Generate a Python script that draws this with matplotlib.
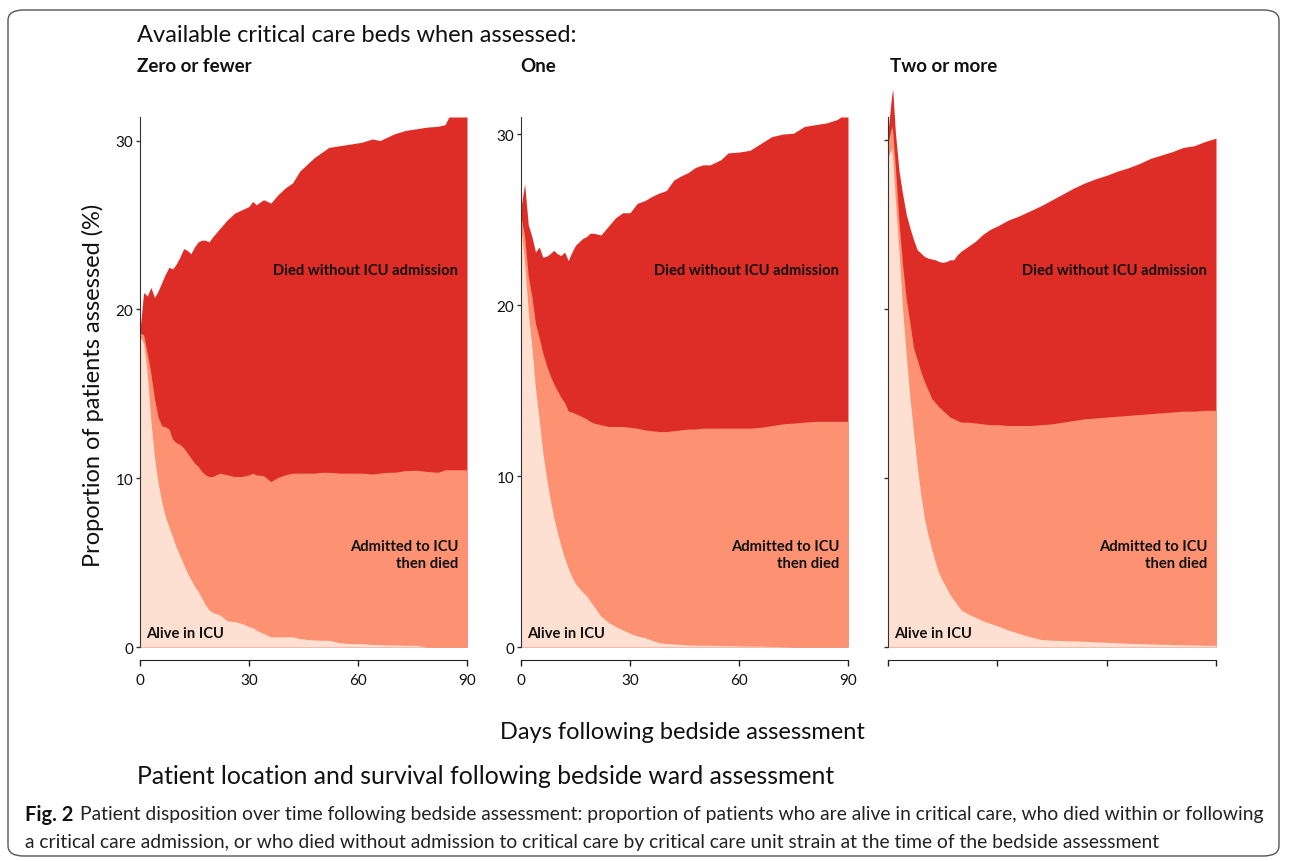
import matplotlib.pyplot as plt
from matplotlib.patches import FancyBboxPatch

plt.rcParams["font.family"] = ["Lato", "DejaVu Sans"]

# ── colours (ColorBrewer "Reds", 3 classes) ──────────────────────────────────
C_ALIVE = "#FEE0D2"
C_ICU = "#FC9272"
C_WARD = "#DE2D26"
TXT = "#111111"

# ── data: upper edge of each stacked band, % of patients assessed ────────────
# "Zero or fewer" beds available
days_zero = [0, 1, 2, 3, 4, 5, 6, 7, 8, 9, 10, 11, 12, 13, 14, 15, 16, 17, 18, 19,
             20, 22, 24, 26, 28, 30, 31, 32, 34, 36, 38, 40, 42, 44, 46, 48, 50, 52,
             55, 58, 61, 64, 66, 68, 70, 73, 76, 79, 82, 84, 85, 88, 90]
alive_zero = [18.4, 18.0, 16.2, 13.4, 11.2, 9.7, 8.6, 7.7, 7.1, 6.5, 5.9, 5.4, 4.9,
              4.4, 4.0, 3.6, 3.3, 2.9, 2.5, 2.2, 2.05, 1.9, 1.55, 1.5, 1.4, 1.2, 1.15,
              1.0, 0.8, 0.6, 0.6, 0.6, 0.6, 0.5, 0.45, 0.42, 0.4, 0.4, 0.25, 0.2, 0.2,
              0.15, 0.15, 0.12, 0.12, 0.1, 0.1, 0.0, 0.0, 0.0, 0.0, 0.0, 0.0]
icu_zero = [18.6, 18.5, 17.4, 16.2, 14.7, 13.6, 13.1, 13.05, 12.9, 12.3, 12.1, 12.0,
            11.8, 11.5, 11.2, 10.9, 10.7, 10.4, 10.2, 10.1, 10.1, 10.3, 10.2, 10.1,
            10.1, 10.2, 10.3, 10.2, 10.15, 9.8, 10.05, 10.2, 10.3, 10.3, 10.3, 10.3,
            10.35, 10.35, 10.3, 10.3, 10.3, 10.25, 10.3, 10.35, 10.35, 10.45, 10.47,
            10.4, 10.35, 10.5, 10.5, 10.5, 10.5]
total_zero = [18.8, 21.0, 20.8, 21.3, 20.7, 21.1, 21.6, 22.1, 22.5, 22.4, 22.7, 23.1,
              23.6, 23.5, 23.3, 23.7, 24.0, 24.1, 24.1, 24.0, 24.3, 24.8, 25.3, 25.7,
              25.9, 26.1, 26.4, 26.2, 26.5, 26.3, 26.8, 27.2, 27.5, 28.2, 28.6, 29.0,
              29.3, 29.6, 29.7, 29.8, 29.9, 30.1, 30.0, 30.2, 30.4, 30.6, 30.7, 30.8,
              30.85, 30.95, 31.4, 31.4, 31.4]

# "One" bed available
days_one = [0, 1, 2, 3, 4, 5, 6, 7, 8, 9, 10, 11, 12, 13, 14, 15, 16, 17, 18, 19, 20,
            22, 24, 26, 28, 30, 32, 34, 36, 38, 40, 42, 44, 46, 48, 50, 52, 55, 57, 60,
            63, 66, 69, 72, 75, 78, 81, 84, 87, 88, 90]
alive_one = [24.5, 22.5, 19.6, 17.5, 15.1, 13.3, 11.4, 9.9, 8.7, 7.6, 6.7, 5.9, 5.2,
             4.6, 4.1, 3.7, 3.45, 3.2, 3.0, 2.7, 2.4, 1.8, 1.45, 1.2, 1.0, 0.8, 0.65,
             0.55, 0.4, 0.25, 0.2, 0.18, 0.15, 0.12, 0.1, 0.1, 0.1, 0.08, 0.08, 0.06,
             0.05, 0.05, 0.03, 0.02, 0.0, 0.0, 0.0, 0.0, 0.0, 0.0, 0.0]
icu_one = [25.2, 24.0, 21.7, 20.5, 18.9, 18.1, 17.2, 16.5, 15.9, 15.4, 15.0, 14.6,
           14.3, 13.8, 13.75, 13.65, 13.55, 13.45, 13.35, 13.2, 13.1, 13.0, 12.9, 12.9,
           12.9, 12.85, 12.8, 12.7, 12.65, 12.6, 12.6, 12.65, 12.7, 12.75, 12.75, 12.8,
           12.8, 12.8, 12.8, 12.8, 12.8, 12.85, 12.95, 13.05, 13.1, 13.15, 13.2, 13.2,
           13.2, 13.2, 13.2]
total_one = [25.7, 27.1, 24.7, 24.0, 23.1, 23.4, 22.8, 22.85, 23.0, 23.2, 23.0, 22.9,
             23.1, 22.6, 23.1, 23.5, 23.7, 23.9, 24.0, 24.2, 24.2, 24.1, 24.6, 25.1,
             25.4, 25.4, 25.95, 26.1, 26.35, 26.55, 26.7, 27.3, 27.55, 27.75, 28.05,
             28.2, 28.2, 28.5, 28.9, 28.95, 29.05, 29.45, 29.85, 30.0, 30.05, 30.45,
             30.55, 30.65, 30.85, 31.0, 31.0]

# "Two or more" beds available
days_two = [0, 1, 1.3, 2, 3, 4, 5, 6, 7, 8, 9, 10, 11, 12, 13, 14, 15, 16, 17, 18, 19,
            20, 22, 24, 26, 28, 30, 33, 36, 39, 42, 45, 48, 51, 54, 57, 60, 63, 66, 69,
            72, 75, 78, 81, 84, 87, 90]
alive_two = [29.0, 29.5, 29.0, 26.5, 23.5, 20.0, 17.3, 14.8, 12.7, 10.7, 9.0, 7.6,
             6.6, 5.8, 5.0, 4.35, 3.9, 3.5, 3.1, 2.8, 2.5, 2.2, 1.95, 1.75, 1.55, 1.4,
             1.25, 1.0, 0.8, 0.6, 0.45, 0.4, 0.38, 0.36, 0.34, 0.3, 0.28, 0.25, 0.22,
             0.2, 0.18, 0.16, 0.15, 0.13, 0.12, 0.1, 0.1]
icu_two = [29.8, 30.8, 30.5, 28.5, 25.2, 22.6, 20.6, 19.2, 17.7, 17.0, 16.3, 15.7,
           15.2, 14.7, 14.45, 14.2, 14.0, 13.8, 13.6, 13.5, 13.4, 13.3, 13.3, 13.25,
           13.2, 13.15, 13.15, 13.1, 13.1, 13.1, 13.15, 13.2, 13.3, 13.4, 13.5, 13.55,
           13.6, 13.65, 13.7, 13.75, 13.8, 13.85, 13.9, 13.95, 13.95, 14.0, 14.0]
total_two = [30.5, 32.6, 33.0, 30.5, 28.2, 26.8, 25.6, 24.8, 24.1, 23.5, 23.3, 23.1,
             23.0, 22.95, 22.9, 22.8, 22.75, 22.8, 22.9, 22.9, 23.2, 23.4, 23.7, 24.0,
             24.4, 24.7, 24.9, 25.25, 25.5, 25.8, 26.1, 26.45, 26.8, 27.15, 27.45, 27.7,
             27.9, 28.15, 28.35, 28.6, 28.9, 29.1, 29.3, 29.55, 29.65, 29.9, 30.1]

panel_titles = ["Zero or fewer", "One", "Two or more"]
x_ticks = [0, 30, 60, 90]
y_ticks = [0, 10, 20, 30]

panels = [
    (days_zero, alive_zero, icu_zero, total_zero),
    (days_one, alive_one, icu_one, total_one),
    (days_two, alive_two, icu_two, total_two),
]

# ── layout in figure pixels ──────────────────────────────────────────────────
W, H = 1290, 862
fig = plt.figure(figsize=(W / 100, H / 100), dpi=100)

lefts = [140, 521, 888]
widths = [327, 327, 328]
y0_px, ytop_px = 648, 118
y_tops = [max(total_zero), max(total_one), 31.35]


def fx(px):
    return px / W


def fy(py):
    return 1 - py / H


axes = []
for i, ((d, alive, icu, total), left, width) in enumerate(zip(panels, lefts, widths)):
    ax = fig.add_axes([fx(left), fy(y0_px), width / W, (y0_px - ytop_px) / H])
    clip = i != 2
    # stacked from the back so no seams show between bands
    ax.fill_between(d, 0, total, color=C_WARD, lw=0, clip_on=clip)
    ax.fill_between(d, 0, icu, color=C_ICU, lw=0, clip_on=clip)
    ax.fill_between(d, 0, alive, color=C_ALIVE, lw=0, clip_on=clip)

    ax.set_xlim(0, 90)
    ax.set_ylim(0, y_tops[i])
    ax.set_xticks(x_ticks)
    ax.set_yticks(y_ticks)
    ax.patch.set_alpha(0)

    for s in ["top", "right"]:
        ax.spines[s].set_visible(False)
    ax.spines["bottom"].set_position(("outward", 9))
    ax.spines["left"].set_color("#333333")
    ax.spines["bottom"].set_color("#222222")
    ax.tick_params(axis="x", direction="out", length=4.5, width=1, colors="#222222",
                   labelsize=11, pad=5, labelcolor=TXT)
    ax.tick_params(axis="y", direction="out", length=3, width=1, colors="#333333",
                   labelsize=11, pad=2, labelcolor=TXT)
    if i == 2:
        ax.set_xticklabels([])
        ax.set_yticklabels([])

    # band labels: x in days, y as a fraction of the panel height
    tr = ax.get_xaxis_transform()
    ax.text(87.6, 0.711, "Died without ICU admission", transform=tr, ha="right",
            va="center", fontsize=10.6, fontweight="bold", color=TXT)
    ax.text(87.6, 0.174, "Admitted to ICU\nthen died", transform=tr, ha="right",
            va="center", fontsize=10.6, fontweight="bold", color=TXT, linespacing=1.3)
    ax.text(1.8, 0.027, "Alive in ICU", transform=tr, ha="left", va="center",
            fontsize=10.6, fontweight="bold", color=TXT)
    axes.append(ax)

# ── headings ─────────────────────────────────────────────────────────────────
fig.text(fx(137), fy(36), "Available critical care beds when assessed:",
         ha="left", va="center", fontsize=17, color=TXT)
for title, px in zip(panel_titles, [137, 520, 890]):
    fig.text(fx(px), fy(67), title, ha="left", va="center",
             fontsize=13.5, fontweight="bold", color=TXT)

fig.text(fx(93), fy(385), "Proportion of patients assessed (%)", rotation=90,
         ha="center", va="center", fontsize=17, color=TXT)
fig.text(fx(682), fy(733), "Days following bedside assessment",
         ha="center", va="center", fontsize=17, color=TXT)
fig.text(fx(137), fy(777), "Patient location and survival following bedside ward assessment",
         ha="left", va="center", fontsize=17.8, color=TXT)

# ── caption ──────────────────────────────────────────────────────────────────
fig_lbl = fig.text(fx(25), fy(815), "Fig. 2", ha="left", va="center",
                   fontsize=14.5, fontweight="bold", color=TXT)
axes[0].annotate("Patient disposition over time following bedside assessment: proportion "
                 "of patients who are alive in critical care, who died within or following",
                 xy=(1, 0.5), xycoords=fig_lbl, xytext=(5, 0), textcoords="offset points",
                 ha="left", va="center", fontsize=13.9, color="#222222",
                 annotation_clip=False)
fig.text(fx(25), fy(843), "a critical care admission, or who died without admission to "
         "critical care by critical care unit strain at the time of the bedside assessment",
         ha="left", va="center", fontsize=13.9, color="#222222")

# rounded frame around the whole figure
frame = FancyBboxPatch((fx(8), fy(857)), fx(1279) - fx(8), fy(11) - fy(857),
                       boxstyle="round,pad=0,rounding_size=0.012",
                       transform=fig.transFigure, fill=False,
                       edgecolor="#555555", lw=1.0)
fig.add_artist(frame)

fig.savefig("out.png", dpi=100)
